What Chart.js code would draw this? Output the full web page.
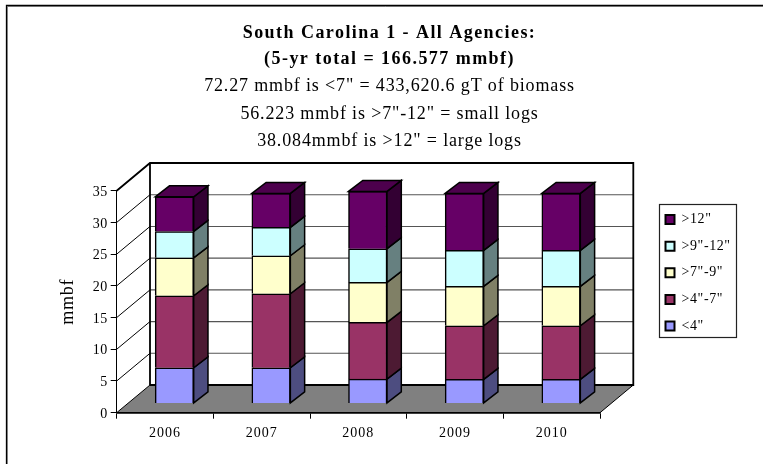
<!DOCTYPE html>
<html><head><meta charset="utf-8">
<style>html,body{margin:0;padding:0;background:#fff}canvas{display:block}</style>
<script src="https://cdn.jsdelivr.net/npm/chart.js@4"></script></head>
<body><canvas id="c" width="763" height="464"></canvas>
<script>
const categories = ['2006','2007','2008','2009','2010'];
const under4 = [5.62,5.62,3.84,3.78,3.78];
const from4to7 = [11.35,11.67,8.93,8.46,8.46];
const from7to9 = [5.99,5.99,6.31,6.2,6.2];
const from9to12 = [4.15,4.47,5.31,5.68,5.68];
const over12 = [5.46,5.36,9.04,8.99,8.99];
const seriesNames = ['<4"','>4"-7"','>7"-9"','>9"-12"','>12"'];
const titleLines = ['South Carolina 1 - All Agencies:','(5-yr total = 166.577 mmbf)'];
const subtitleLines = ['72.27 mmbf is <7" = 433,620.6 gT of biomass','56.223 mmbf is >7"-12" = small logs','38.084mmbf is >12" = large logs'];
const frontColors = ['#9999FF','#993366','#FFFFCC','#CCFFFF','#660066'];
const sideColors = ['#4D4D80','#4D1A33','#808066','#668080','#330033'];
const topColor = '#4D004D';
const SERIF = '"Liberation Serif","Times New Roman",serif';
const WALL = {dx:33.3, dy:27.7};
const BAR = {dx:14.3, dy:11, ox:9.4, oy:9.3};
const LEGEND_BOX = {left:659.5,top:204.5,right:736.5,bottom:337.5};

// Applies canvas letter spacing around one of the library's own draw methods.
function spaced(obj, method, px){
  if(!obj || obj['_sp_'+method]) return;
  obj['_sp_'+method] = true;
  const orig = obj[method];
  obj[method] = function(...args){
    const c = this.ctx;
    const prev = c.letterSpacing;
    c.letterSpacing = px+'px';
    const r = orig.apply(this,args);
    c.letterSpacing = prev;
    return r;
  };
}

const depth3d = {
  id:'depth3d',
  beforeLayout(chart){
    const l = chart.legend;
    if(l && !l._fitWrapped){
      const f = l.fit;
      l.fit = function(){ f.call(this); this.width = 136; };
      l._fitWrapped = true;
    }
  },
  afterLayout(chart){
    const l = chart.legend;
    l.left = 652.9; l.right = 740; l.top = 200; l.bottom = 420;
    chart.boxes.forEach(b=>{
      if(b.options && b.options.text === titleLines) spaced(b,'draw',1.45);
      if(b.options && b.options.text === subtitleLines) spaced(b,'draw',0.85);
    });
    spaced(l,'draw',0.6);
    spaced(chart.scales.x,'drawLabels',1);
    spaced(chart.scales.y,'drawLabels',0.5);
    spaced(chart.scales.y,'drawTitle',0.8);
  },
  beforeDraw(chart){
    const c = chart.ctx;
    c.save();
    c.strokeStyle='#999'; c.lineWidth=1;
    c.beginPath(); c.moveTo(763,6.5); c.lineTo(7.5,6.5); c.lineTo(7.5,464); c.stroke();
    c.strokeStyle='#000'; c.lineWidth=1.3;
    c.beginPath(); c.moveTo(763,5.5); c.lineTo(6.5,5.5); c.lineTo(6.5,464); c.stroke();
    c.restore();
  },
  beforeDatasetsDraw(chart){
    const c = chart.ctx, a = chart.chartArea, ys = chart.scales.y;
    const L=a.left,R=a.right,B=a.bottom,T=a.top,dx=WALL.dx,dy=WALL.dy;
    c.save();
    c.fillStyle='#808080';
    c.beginPath(); c.moveTo(L,B); c.lineTo(R,B); c.lineTo(R+dx,B-dy); c.lineTo(L+dx,B-dy); c.closePath(); c.fill();
    ys.ticks.forEach(t=>{
      const y = ys.getPixelForValue(t.value);
      if(t.value>0 && t.value<35){
        c.strokeStyle='#555'; c.lineWidth=1.1;
        c.beginPath(); c.moveTo(L+dx,y-dy); c.lineTo(R+dx,y-dy); c.stroke();
      }
      c.strokeStyle='#000'; c.lineWidth=1;
      c.beginPath(); c.moveTo(L,y); c.lineTo(L+dx,y-dy); c.stroke();
    });
    c.strokeStyle='#000'; c.lineWidth=1.8;
    c.beginPath(); c.moveTo(L,T); c.lineTo(L+dx,T-dy); c.lineTo(R+dx,T-dy); c.lineTo(R+dx,B-dy); c.lineTo(L+dx,B-dy);
    c.moveTo(L+dx,T-dy); c.lineTo(L+dx,B-dy); c.stroke();
    c.lineWidth=1;
    c.beginPath(); c.moveTo(R,B); c.lineTo(R+dx,B-dy); c.stroke();
    c.lineWidth=1.5;
    c.beginPath(); c.moveTo(L,B); c.lineTo(R,B); c.stroke();
    c.restore();
    c.save();
    c.translate(BAR.ox,-BAR.oy);
  },
  afterDatasetsDraw(chart){
    const c = chart.ctx;
    const n = chart.data.datasets.length;
    c.lineWidth=1.5; c.strokeStyle='#000'; c.lineJoin='miter';
    chart.data.datasets.forEach((ds,i)=>{
      chart.getDatasetMeta(i).data.forEach(el=>{
        const r = el.x+el.width/2, l = el.x-el.width/2, t = el.y, b = el.base;
        c.fillStyle = sideColors[i];
        c.beginPath(); c.moveTo(r,t); c.lineTo(r+BAR.dx,t-BAR.dy); c.lineTo(r+BAR.dx,b-BAR.dy); c.lineTo(r,b); c.closePath(); c.fill(); c.stroke();
        if(i===n-1){
          c.fillStyle = topColor;
          c.beginPath(); c.moveTo(l,t); c.lineTo(l+BAR.dx,t-BAR.dy); c.lineTo(r+BAR.dx,t-BAR.dy); c.lineTo(r,t); c.closePath(); c.fill(); c.stroke();
        }
      });
    });
    c.restore();
  },
  afterDraw(chart){
    const c = chart.ctx, b = LEGEND_BOX;
    c.save(); c.strokeStyle='#222'; c.lineWidth=1.2;
    c.strokeRect(b.left,b.top,b.right-b.left,b.bottom-b.top);
    c.restore();
  }
};

const seriesValues = [under4,from4to7,from7to9,from9to12,over12];
new Chart(document.getElementById('c'),{
  type:'bar',
  plugins:[depth3d],
  data:{labels:categories,datasets:seriesValues.map((v,i)=>({
    label:seriesNames[i],data:v,backgroundColor:frontColors[i],borderColor:'#000',borderWidth:1.5,barThickness:38.5
  }))},
  options:{
    responsive:false,animation:false,devicePixelRatio:1,
    layout:{padding:{left:43,right:27,top:0,bottom:0}},
    plugins:{
      tooltip:{enabled:false},
      title:{display:true,text:titleLines,color:'#000',font:{family:SERIF,size:18,weight:'bold',lineHeight:1.475},padding:{top:19.8,bottom:0}},
      subtitle:{display:true,text:subtitleLines,color:'#000',font:{family:SERIF,size:18,weight:'normal',lineHeight:1.53},padding:{top:0,bottom:35.2}},
      legend:{display:true,position:'right',align:'start',reverse:true,
        labels:{boxWidth:9,boxHeight:9,padding:12.6,color:'#000',font:{family:SERIF,size:14},
          generateLabels(chart){return Chart.defaults.plugins.legend.labels.generateLabels(chart).map(x=>({...x,lineWidth:2}));}}}
    },
    scales:{
      x:{stacked:true,offset:true,
        grid:{display:true,drawOnChartArea:false,drawTicks:true,tickLength:6,color:'#000',offset:true},
        border:{display:true,color:'#000',width:1.5},
        ticks:{color:'#000',padding:6,maxRotation:0,font:{family:SERIF,size:14}},
        afterFit(s){s.height=51.3;}
      },
      y:{stacked:true,min:0,max:35,
        grid:{display:true,drawOnChartArea:false,drawTicks:true,tickLength:6,color:'#000'},
        border:{display:true,color:'#000',width:1},
        ticks:{stepSize:5,color:'#000',padding:3,labelOffset:1.5,font:{family:SERIF,size:14}},
        title:{display:true,text:'mmbf',color:'#000',font:{family:SERIF,size:18},padding:{top:14.2,bottom:0}},
        afterFit(s){s.width=73.7;}
      }
    }
  }
});
</script></body></html>
